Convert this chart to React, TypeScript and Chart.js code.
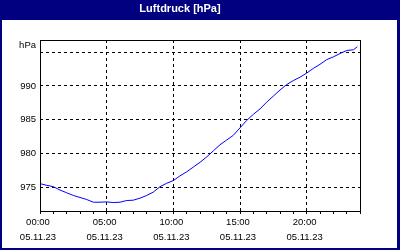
import React, { useEffect, useRef } from "react";
import { Chart, registerables } from "chart.js";

Chart.register(...registerables);

const chartTitle = "Luftdruck [hPa]";
const unitLabel = "hPa";
const dateLabel = "05.11.23";

const hours = [
  0, 0.5, 1, 1.5, 2, 2.5, 3, 3.5, 4, 4.5, 5, 5.5, 6, 6.5, 7, 7.5, 8, 8.5, 9, 9.5,
  10, 10.5, 11, 11.5, 12, 12.5, 13, 13.5, 14, 14.5, 15, 15.5, 16, 16.5, 17, 17.5,
  18, 18.5, 19, 19.5, 20, 20.5, 21, 21.5, 22, 22.5, 23, 23.5, 23.8,
];

const pressure = [
  975.55, 975.3, 975.1, 974.6, 974.2, 973.8, 973.5, 973.2, 972.8, 972.8, 972.85,
  972.75, 972.8, 973.05, 973.1, 973.4, 973.8, 974.3, 975.1, 975.6, 976.0, 976.7,
  977.3, 978.0, 978.7, 979.5, 980.4, 981.3, 982.0, 982.7, 983.8, 984.9, 985.8,
  986.6, 987.6, 988.5, 989.4, 990.2, 990.8, 991.3, 991.9, 992.6, 993.2, 993.9,
  994.3, 994.8, 995.25, 995.35, 995.8,
];

const xTickHours = [0, 5, 10, 15, 20];
const xTickLabels = ["00:00", "05:00", "10:00", "15:00", "20:00"];
const xGridHours = [5, 10, 15, 20];
const yTicks = [975, 980, 985, 990, 995];
const yLabelled = [975, 980, 985, 990];

const NAVY = "#000080";
const FONT = "'Liberation Sans', Arial, sans-serif";

const framePlugin = {
  id: "frame",
  beforeDraw(chart: any) {
    const { ctx, width, height } = chart;
    ctx.save();
    ctx.fillStyle = "#ffffff";
    ctx.fillRect(0, 0, width, height);
    ctx.fillStyle = NAVY;
    ctx.fillRect(0, 0, width, 20);
    ctx.fillRect(0, 0, 2, height);
    ctx.fillRect(width - 3, 0, 3, height);
    ctx.fillRect(0, height - 2, width, 2);
    ctx.restore();
  },
  afterDraw(chart: any) {
    const { ctx, chartArea } = chart;
    const l = Math.round(chartArea.left);
    const r = Math.round(chartArea.right);
    const t = Math.round(chartArea.top);
    const b = Math.round(chartArea.bottom);
    ctx.save();
    ctx.strokeStyle = "#000000";
    ctx.lineWidth = 1;
    ctx.setLineDash([]);
    ctx.strokeRect(l + 0.5, t + 0.5, r - l, b - t);
    ctx.fillStyle = "#000000";
    ctx.font = `9.5px ${FONT}`;
    ctx.textAlign = "right";
    ctx.textBaseline = "middle";
    ctx.fillText(unitLabel, l - 4, t + 5);
    ctx.restore();
  },
};

export default function App() {
  const canvasRef = useRef<HTMLCanvasElement | null>(null);

  useEffect(() => {
    document.body.style.margin = "0";
    const canvas = canvasRef.current;
    if (!canvas) return;
    const chart = new Chart(canvas, {
      type: "line",
      data: {
        datasets: [
          {
            data: hours.map((h, i) => ({ x: h, y: pressure[i] })),
            borderColor: "#0000ff",
            borderWidth: 1,
            pointRadius: 0,
            tension: 0,
            fill: false,
          },
        ],
      },
      options: {
        animation: false,
        responsive: false,
        maintainAspectRatio: false,
        layout: { padding: { left: 0, right: 40, top: 0, bottom: 0 } },
        plugins: {
          legend: { display: false },
          tooltip: { enabled: false },
          title: {
            display: true,
            text: chartTitle,
            color: "#ffffff",
            font: { family: FONT, size: 11, weight: "bold", lineHeight: 1.2 },
            padding: { top: 2, bottom: 24.8 },
          },
        },
        scales: {
          x: {
            type: "linear",
            min: 0,
            max: 24,
            afterFit(scale: any) {
              scale.height = 39;
            },
            border: { display: false, dash: [3, 3] },
            grid: {
              color: (ctx: any) =>
                ctx.tick && xGridHours.includes(ctx.tick.value) ? "#000000" : "rgba(0,0,0,0)",
              tickColor: "#000000",
              tickBorderDash: [],
              tickLength: 3,
              lineWidth: 1,
              drawTicks: true,
            },
            ticks: {
              stepSize: 1,
              autoSkip: false,
              maxRotation: 0,
              minRotation: 0,
              padding: 1,
              labelOffset: -2,
              color: "#000000",
              font: { family: FONT, size: 9.5, lineHeight: 1.6 },
              callback: (v: any) => {
                const idx = xTickHours.indexOf(Number(v));
                return idx >= 0 ? [xTickLabels[idx], dateLabel] : "";
              },
            },
          },
          y: {
            type: "linear",
            min: 971.5,
            max: 996.8,
            afterFit(scale: any) {
              scale.width = 40;
            },
            afterBuildTicks(scale: any) {
              scale.ticks = yTicks.map((value) => ({ value }));
            },
            border: { display: false, dash: [3, 3] },
            grid: {
              color: "#000000",
              lineWidth: 1,
              drawTicks: false,
            },
            ticks: {
              padding: 4,
              color: "#000000",
              font: { family: FONT, size: 9.5 },
              callback: (v: any) => (yLabelled.includes(Number(v)) ? String(v) : ""),
            },
          },
        },
      },
      plugins: [framePlugin],
    });
    return () => chart.destroy();
  }, []);

  return (
    <div style={{ width: 400, height: 250 }}>
      <canvas ref={canvasRef} width={400} height={250} style={{ display: "block" }} />
    </div>
  );
}
